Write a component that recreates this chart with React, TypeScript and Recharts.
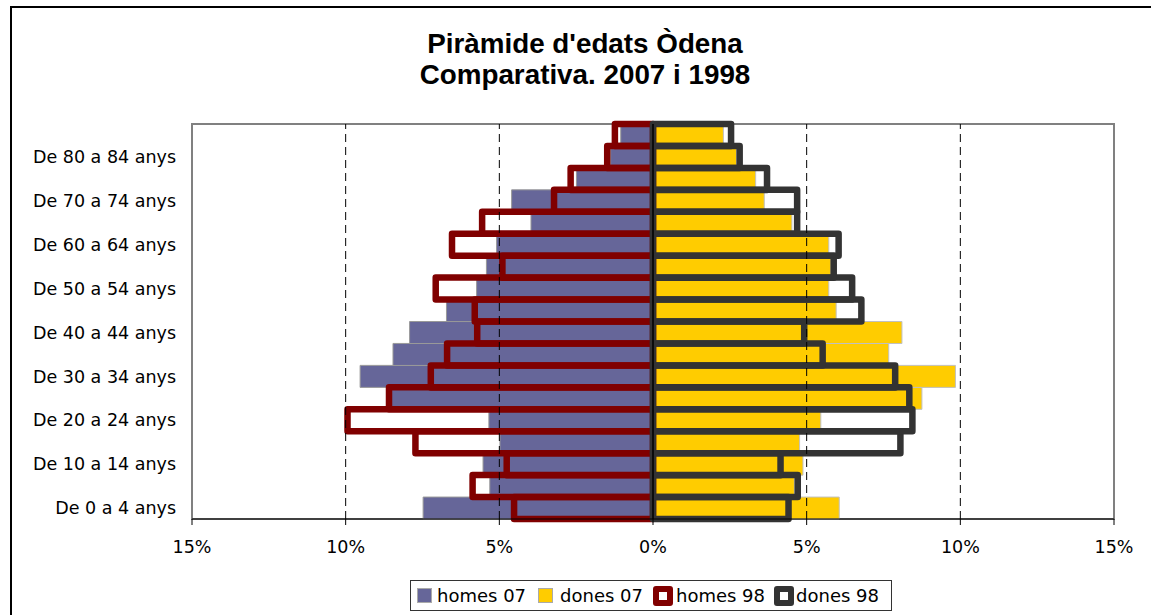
import {
    BarChart,
    Bar,
    XAxis,
    YAxis,
    ReferenceLine,
    ReferenceArea,
} from 'recharts'

const ages = [
    'De 0 a 4 anys', 'De 5 a 9 anys', 'De 10 a 14 anys', 'De 15 a 19 anys',
    'De 20 a 24 anys', 'De 25 a 29 anys', 'De 30 a 34 anys', 'De 35 a 39 anys',
    'De 40 a 44 anys', 'De 45 a 49 anys', 'De 50 a 54 anys', 'De 55 a 59 anys',
    'De 60 a 64 anys', 'De 65 a 69 anys', 'De 70 a 74 anys', 'De 75 a 79 anys',
    'De 80 a 84 anys', 'De 85 anys i més',
]

// % of population
const homes07 = [7.48, 5.31, 5.53, 4.98, 5.34, 8.55, 9.53, 8.46, 7.92, 6.72, 5.74, 5.42, 5.09, 3.97, 4.6, 2.49, 1.38, 1.05]
const dones07 = [6.06, 4.6, 4.88, 4.77, 5.46, 8.75, 9.84, 7.67, 8.1, 5.96, 5.72, 5.79, 5.72, 4.52, 3.62, 3.34, 2.72, 2.29]
const homes98 = [4.52, 5.87, 4.76, 7.73, 9.94, 8.59, 7.23, 6.7, 5.72, 5.8, 7.07, 4.9, 6.54, 5.56, 3.22, 2.68, 1.49, 1.24]
const dones98 = [4.41, 4.71, 4.15, 8.05, 8.44, 8.34, 7.88, 5.52, 4.92, 6.78, 6.48, 5.88, 6.04, 4.69, 4.69, 3.71, 2.82, 2.54]

const xTicks = [-15, -10, -5, 0, 5, 10, 15]
const gridAt = [-10, -5, 5, 10]

const data = ages.map((age, i) => ({
    age,
    h07: -homes07[i],
    d07: dones07[i],
    h98: -homes98[i],
    d98: dones98[i],
}))

const tickFont = { fontFamily: 'DejaVu Sans', fontSize: 17.5, fill: '#000' }

function LegendBox() {
    const txt = { fontFamily: 'DejaVu Sans', fontSize: 18, color: '#000', whiteSpace: 'nowrap' as const }
    const flat = (c: string) => ({ width: 13, height: 13, background: c, border: '1px solid #aaa' })
    const hollow = (c: string) => ({
        width: 8, height: 8, border: '6px solid ' + c, borderRadius: 3, background: '#fff',
    })
    return (
        <div
            style={{
                position: 'absolute', left: 410, top: 580, width: 480, height: 29,
                border: '1px solid #333', display: 'flex', alignItems: 'center', background: '#fff',
            }}
        >
            <div style={{ ...flat('#666699'), marginLeft: 6 }} />
            <span style={{ ...txt, marginLeft: 5 }}>homes 07</span>
            <div style={{ ...flat('#FFCC00'), marginLeft: 12 }} />
            <span style={{ ...txt, marginLeft: 7 }}>dones 07</span>
            <div style={{ ...hollow('#800000'), marginLeft: 10 }} />
            <span style={{ ...txt, marginLeft: 3 }}>homes 98</span>
            <div style={{ ...hollow('#333333'), marginLeft: 9 }} />
            <span style={{ ...txt, marginLeft: 2 }}>dones 98</span>
        </div>
    )
}

export default function App() {
    return (
        <div
            style={{
                position: 'fixed', left: 0, top: 0, width: 1151, height: 615,
                overflow: 'hidden', background: '#fff',
            }}
        >
            <div
                style={{
                    position: 'absolute', left: 10, top: 6, right: 0, bottom: 0,
                    borderLeft: '2px solid #000', borderTop: '2px solid #000',
                }}
            />
            <div
                style={{
                    position: 'absolute', left: 0, width: 1170, top: 28, textAlign: 'center',
                    fontFamily: 'Liberation Sans, Arial, sans-serif', fontWeight: 'bold',
                    fontSize: 27.8, lineHeight: '31px', color: '#000',
                }}
            >
                Piràmide d'edats Òdena
                <br />
                Comparativa. 2007 i 1998
            </div>

            <div style={{ position: 'absolute', left: 0, top: 0 }}>
                <BarChart
                    width={1151}
                    height={615}
                    data={data}
                    layout="vertical"
                    stackOffset="sign"
                    barCategoryGap={0}
                    barGap={0}
                    margin={{ top: 124, right: 37, bottom: 56, left: 0 }}
                >
                    <XAxis
                        type="number"
                        domain={[-15, 15]}
                        ticks={xTicks}
                        tickFormatter={(v: number) => Math.abs(v) + '%'}
                        tick={tickFont}
                        tickSize={6}
                        tickMargin={16}
                        height={40}
                        axisLine={{ stroke: '#000' }}
                        tickLine={{ stroke: '#000' }}
                    />
                    <YAxis
                        yAxisId="a"
                        type="category"
                        dataKey="age"
                        reversed
                        interval={1}
                        width={192}
                        tick={tickFont}
                        tickSize={0}
                        tickMargin={16}
                        tickLine={false}
                        axisLine={false}
                    />
                    <YAxis yAxisId="b" type="category" dataKey="age" reversed hide />

                    <ReferenceArea
                        yAxisId="a"
                        x1={-15}
                        x2={15}
                        fill="none"
                        stroke="#808080"
                        strokeWidth={2}
                    />
                    {gridAt.map((g) => (
                        <ReferenceLine
                            key={g}
                            yAxisId="a"
                            x={g}
                            stroke="#000"
                            strokeDasharray="8 5"
                        />
                    ))}

                    <Bar
                        yAxisId="a"
                        dataKey="h07"
                        stackId="07"
                        fill="#666699"
                        stroke="#999999"
                        strokeWidth={1}
                        isAnimationActive={false}
                    />
                    <Bar
                        yAxisId="a"
                        dataKey="d07"
                        stackId="07"
                        fill="#FFCC00"
                        stroke="#c0c0c0"
                        strokeWidth={1}
                        isAnimationActive={false}
                    />
                    <Bar
                        yAxisId="b"
                        dataKey="h98"
                        stackId="98"
                        fill="none"
                        stroke="#800000"
                        strokeWidth={6.5}
                        strokeLinejoin="round"
                        isAnimationActive={false}
                    />
                    <Bar
                        yAxisId="b"
                        dataKey="d98"
                        stackId="98"
                        fill="none"
                        stroke="#333333"
                        strokeWidth={6.5}
                        strokeLinejoin="round"
                        isAnimationActive={false}
                    />
                    <ReferenceLine yAxisId="a" x={0} stroke="#000" strokeWidth={1.5} />
                </BarChart>
            </div>

            <LegendBox />
        </div>
    )
}
